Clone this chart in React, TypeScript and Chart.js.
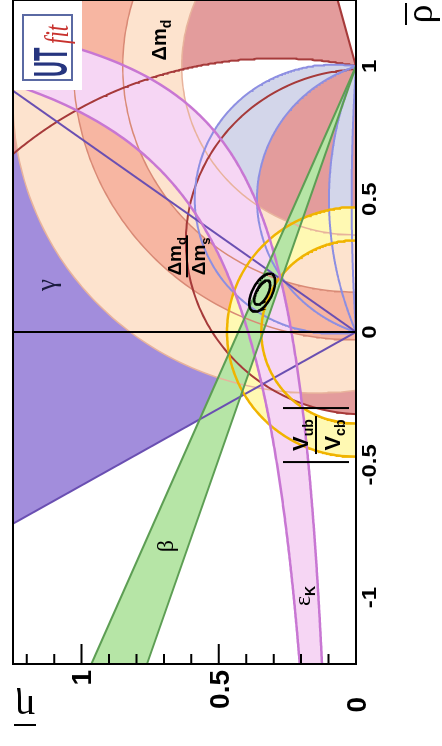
import { useEffect, useRef } from "react";
import { Chart, registerables } from "chart.js";

Chart.register(...registerables);

// ---- plane and axes ----
const RHO_LIMITS = [-1.25, 1.25];
const ETA_LIMITS = [0, 1.25];
const RHO_TICKS = [-1, -0.5, 0, 0.5, 1];
const RHO_TICK_LABELS = ["-1", "-0.5", "0", "0.5", "1"];
const ETA_TICKS = [0, 0.5, 1];
const ETA_TICK_LABELS = ["0", "0.5", "1"];
const ETA_MINOR_TICKS = [0.1, 0.2, 0.3, 0.4, 0.6, 0.7, 0.8, 0.9, 1.1, 1.2];

// ---- constraints in the (ρ̄, η̄) plane ----
// γ: edges of the allowed wedge at the origin, in degrees
const GAMMA_EDGES_DEG = [54, 120];
// β: edges of the allowed wedge at (1,0), in degrees
const BETA_EDGES_DEG = [18.7, 23.2];
// Δm_d: inner radius around (1,0) and outer contour [ρ̄c, η̄c, r]
const DMD_INNER_RADIUS = 0.635;
const DMD_OUTER_CIRCLE = [0.87, 0.15, 1.1];
// Δm_d/Δm_s: radii of the ring around (1,0)
const DMS_RADII = [0.85, 1.03];
// |Vub/Vcb|: radii of the ring around (0,0)
const VUB_RADII = [0.345, 0.47];
// ε_K: edges η̄ = b / (c − ρ̄), given as [c, b]
const EPSK_INNER = [1.39, 0.327];
const EPSK_OUTER = [1.36, 0.535];
// α: circles through (0,0) and (1,0), given by the η̄ of their centres
const ALPHA_MAIN = [0.081, -0.166];
const ALPHA_EDGE = [-1.22, -7.86];
// red band: outer circle and inner circle [ρ̄c, η̄c, r], straight edge angle at (1,0)
const RED_OUTER_CIRCLE = [-0.43, 0.29, 1.46];
const RED_INNER_CIRCLE = [0.34, -0.03, 0.65];
const RED_EDGE_DEG = 15;
// fit result: centre, semi-axes of the 68% and 95% contours, tilt
const FIT_CENTRE = [0.148, 0.342];
const FIT_68 = [0.05, 0.021];
const FIT_95 = [0.078, 0.036];
const FIT_TILT_DEG = -26;

type Pt = { x: number; y: number };
const D2R = Math.PI / 180;

function arc(cx: number, cy: number, r: number, a0: number, a1: number, n = 200): Pt[] {
  const pts: Pt[] = [];
  for (let i = 0; i <= n; i++) {
    const a = a0 + ((a1 - a0) * i) / n;
    pts.push({ x: cx + r * Math.cos(a), y: cy + r * Math.sin(a) });
  }
  return pts;
}

function ringShape(cx: number, cy: number, radii: number[]): Pt[] {
  return [...arc(cx, cy, radii[1], 0, Math.PI), ...arc(cx, cy, radii[0], Math.PI, 0)];
}

// upper arc of the circle through (0,0) and (1,0) whose centre is (0.5, c)
function chordArc(c: number, reverse = false): Pt[] {
  const r = Math.sqrt(0.25 + c * c);
  const a0 = Math.atan2(-c, 0.5);
  const a1 = Math.PI - a0;
  return reverse ? arc(0.5, c, r, a1, a0, 300) : arc(0.5, c, r, a0, a1, 300);
}

function hyperbola(p: number[], reverse = false): Pt[] {
  const [c, b] = p;
  const rhoMin = -1.5;
  const rhoMax = c - b / 1.6;
  const pts: Pt[] = [];
  const n = 400;
  for (let i = 0; i <= n; i++) {
    const rho = rhoMin + ((rhoMax - rhoMin) * i) / n;
    pts.push({ x: rho, y: b / (c - rho) });
  }
  return reverse ? pts.reverse() : pts;
}

function ray(x0: number, y0: number, deg: number, len = 4): Pt[] {
  return [
    { x: x0, y: y0 },
    { x: x0 + len * Math.cos(deg * D2R), y: y0 + len * Math.sin(deg * D2R) },
  ];
}

function ellipse(centre: number[], axes: number[], tiltDeg: number): Pt[] {
  const pts: Pt[] = [];
  const t = tiltDeg * D2R;
  for (let i = 0; i <= 120; i++) {
    const a = (i / 120) * 2 * Math.PI;
    const u = axes[0] * Math.cos(a);
    const v = axes[1] * Math.sin(a);
    pts.push({
      x: centre[0] + u * Math.cos(t) - v * Math.sin(t),
      y: centre[1] + u * Math.sin(t) + v * Math.cos(t),
    });
  }
  return pts;
}

function buildDatasets() {
  const fills: { pts: Pt[]; color: string }[] = [];
  const lines: { pts: Pt[]; color: string; width: number }[] = [];

  // γ wedge at the origin
  const g0 = GAMMA_EDGES_DEG[0];
  const g1 = GAMMA_EDGES_DEG[1];
  fills.push({
    pts: [
      { x: 0, y: 0 },
      ray(0, 0, g0, 4)[1],
      ray(0, 0, (g0 + g1) / 2, 4)[1],
      ray(0, 0, g1, 4)[1],
    ],
    color: "#a28ddc",
  });

  // red band: outside the outer circle above the straight edge, and inside the inner circle
  const [oc, oe, or] = RED_OUTER_CIRCLE;
  const aStart = Math.atan2(0 - oe, 1 - oc);
  const outerArc = arc(oc, oe, or, aStart, 55 * D2R, 200);
  const edge = ray(1, 0, RED_EDGE_DEG, 4);
  fills.push({
    pts: [...outerArc, { x: 3, y: 3 }, edge[1], { x: 1, y: 0 }],
    color: "#e39c9c",
  });
  const [ic, ie, ir] = RED_INNER_CIRCLE;
  const innerCircle = arc(ic, ie, ir, 0, 2 * Math.PI, 240);
  fills.push({ pts: innerCircle, color: "#e39c9c" });

  // α bands
  fills.push({ pts: [...chordArc(ALPHA_MAIN[0]), ...chordArc(ALPHA_MAIN[1], true)], color: "#d3d6ea" });
  fills.push({ pts: [...chordArc(ALPHA_EDGE[0]), ...chordArc(ALPHA_EDGE[1], true)], color: "#d3d6ea" });

  // Δm_d band: outer contour with the inner disc cut out
  const [dc, de, dr] = DMD_OUTER_CIRCLE;
  const dmdOuter = arc(dc, de, dr, 0, 2 * Math.PI, 300);
  const dmdInner = arc(1, 0, DMD_INNER_RADIUS, 2 * Math.PI, 0, 240);
  fills.push({ pts: [...dmdOuter, ...dmdInner], color: "#fde3ce" });
  // Δm_d/Δm_s ring
  fills.push({ pts: ringShape(1, 0, DMS_RADII), color: "#f7b6a2" });

  // |Vub/Vcb| ring
  fills.push({ pts: ringShape(0, 0, VUB_RADII), color: "#fff9b3" });

  // ε_K band
  fills.push({
    pts: [...hyperbola(EPSK_OUTER), ...hyperbola(EPSK_INNER, true)],
    color: "#f6d6f4",
  });

  // β wedge at (1,0)
  const b0 = 180 - BETA_EDGES_DEG[0];
  const b1 = 180 - BETA_EDGES_DEG[1];
  fills.push({
    pts: [{ x: 1, y: 0 }, ray(1, 0, b0, 5)[1], ray(1, 0, b1, 5)[1]],
    color: "#b6e5a6",
  });

  // edges
  lines.push({ pts: dmdOuter, color: "#e8b39c", width: 1.5 });
  lines.push({ pts: arc(1, 0, DMD_INNER_RADIUS, 0, Math.PI), color: "#e8b39c", width: 1.5 });
  for (const r of DMS_RADII) lines.push({ pts: arc(1, 0, r, 0, Math.PI), color: "#d98a76", width: 1.5 });
  lines.push({ pts: outerArc, color: "#a63a3a", width: 2 });
  lines.push({ pts: edge, color: "#a63a3a", width: 2 });
  lines.push({ pts: innerCircle, color: "#a63a3a", width: 2 });
  for (const c of [...ALPHA_MAIN, ...ALPHA_EDGE]) lines.push({ pts: chordArc(c), color: "#8d8fe2", width: 2 });
  lines.push({ pts: ray(0, 0, g0, 4), color: "#6a4fb2", width: 2 });
  lines.push({ pts: ray(0, 0, g1, 4), color: "#6a4fb2", width: 2 });
  for (const r of VUB_RADII) lines.push({ pts: arc(0, 0, r, 0, Math.PI), color: "#f0b400", width: 2.5 });
  lines.push({ pts: hyperbola(EPSK_OUTER), color: "#c877d3", width: 2.5 });
  lines.push({ pts: hyperbola(EPSK_INNER), color: "#c877d3", width: 2.5 });
  lines.push({ pts: ray(1, 0, b0, 5), color: "#5d9e54", width: 2 });
  lines.push({ pts: ray(1, 0, b1, 5), color: "#5d9e54", width: 2 });
  lines.push({ pts: [{ x: 0, y: 0 }, { x: 0, y: 2 }], color: "#000000", width: 2 });
  lines.push({ pts: ellipse(FIT_CENTRE, FIT_95, FIT_TILT_DEG), color: "#000000", width: 2.5 });
  lines.push({ pts: ellipse(FIT_CENTRE, FIT_68, FIT_TILT_DEG), color: "#000000", width: 2.5 });

  const all: any[] = [];
  fills.forEach((f) =>
    all.push({
      data: f.pts,
      backgroundColor: f.color,
      borderColor: "rgba(0,0,0,0)",
      borderWidth: 0,
      fill: "shape",
    })
  );
  lines.forEach((l) =>
    all.push({
      data: l.pts,
      borderColor: l.color,
      borderWidth: l.width,
      fill: false,
    })
  );
  const n = all.length;
  return all.map((d, i) => ({
    ...d,
    order: n - i,
    pointRadius: 0,
    pointHoverRadius: 0,
    tension: 0,
    clip: 0,
  }));
}

function subText(
  ctx: CanvasRenderingContext2D,
  main: string,
  sub: string,
  cx: number,
  baseline: number,
  mainFont: string,
  subFont: string,
  drop: number
) {
  ctx.font = mainFont;
  const w1 = ctx.measureText(main).width;
  ctx.font = subFont;
  const w2 = ctx.measureText(sub).width;
  const x0 = cx - (w1 + w2) / 2;
  ctx.textAlign = "left";
  ctx.textBaseline = "alphabetic";
  ctx.font = mainFont;
  ctx.fillText(main, x0, baseline);
  ctx.font = subFont;
  ctx.fillText(sub, x0 + w1, baseline + drop);
}

const decor = {
  id: "decor",
  afterDatasetsDraw(chart: any) {
    const ctx: CanvasRenderingContext2D = chart.ctx;
    const xs = chart.scales.x;
    const ys = chart.scales.y;
    const P = (r: number, e: number) => [xs.getPixelForValue(r), ys.getPixelForValue(e)];
    const sans = '"Liberation Sans", Arial, sans-serif';
    const serif = '"Liberation Serif", "DejaVu Serif", serif';
    ctx.save();
    ctx.fillStyle = "#000";
    ctx.strokeStyle = "#000";

    // γ
    let [cx, cy] = P(0.177, 1.122);
    ctx.fillStyle = "#1c1c40";
    ctx.font = `27px ${serif}`;
    ctx.textAlign = "center";
    ctx.textBaseline = "middle";
    ctx.fillText("γ", cx, cy);
    ctx.fillStyle = "#000";

    // Δm_d
    [cx, cy] = P(1.099, 0.714);
    subText(ctx, "Δm", "d", cx, cy + 6, `bold 20px ${sans}`, `bold 14px ${sans}`, 5);

    // Δm_d / Δm_s
    [cx, cy] = P(0.285, 0.616);
    subText(ctx, "Δm", "d", cx, cy - 6, `bold 19px ${sans}`, `bold 13px ${sans}`, 5);
    subText(ctx, "Δm", "s", cx, cy + 18, `bold 19px ${sans}`, `bold 13px ${sans}`, 5);
    ctx.lineWidth = 2;
    ctx.beginPath();
    ctx.moveTo(cx - 21, cy);
    ctx.lineTo(cx + 21, cy);
    ctx.stroke();

    // β
    [cx, cy] = P(-0.806, 0.689);
    ctx.font = `24px ${serif}`;
    ctx.textAlign = "center";
    ctx.textBaseline = "middle";
    ctx.fillText("β", cx, cy);

    // ε_K
    [cx, cy] = P(-0.994, 0.186);
    subText(ctx, "ε", "K", cx, cy + 5, `24px ${serif}`, `bold 14px ${sans}`, 5);

    // |Vub / Vcb|
    [cx, cy] = P(-0.388, 0.146);
    ctx.lineWidth = 2;
    ctx.beginPath();
    ctx.moveTo(cx - 27, cy - 33);
    ctx.lineTo(cx - 27, cy + 33);
    ctx.moveTo(cx + 27, cy - 33);
    ctx.lineTo(cx + 27, cy + 33);
    ctx.moveTo(cx - 19, cy);
    ctx.lineTo(cx + 19, cy);
    ctx.stroke();
    subText(ctx, "V", "ub", cx, cy - 8, `bold 22px ${sans}`, `bold 14px ${sans}`, 5);
    subText(ctx, "V", "cb", cx, cy + 24, `bold 22px ${sans}`, `bold 14px ${sans}`, 5);

    ctx.restore();
  },
  afterDraw(chart: any) {
    const ctx: CanvasRenderingContext2D = chart.ctx;
    const { left, right, top, bottom } = chart.chartArea;
    const xs = chart.scales.x;
    const ys = chart.scales.y;
    const sans = '"Liberation Sans", Arial, sans-serif';
    const serif = '"Liberation Serif", "DejaVu Serif", serif';
    ctx.save();

    // logo
    ctx.fillStyle = "#ffffff";
    ctx.fillRect(right - 90, top + 1, 89, 68);
    ctx.strokeStyle = "#5a69a3";
    ctx.lineWidth = 2;
    ctx.strokeRect(right - 80, top + 10, 65, 49);
    ctx.fillStyle = "#26357f";
    ctx.font = `bold 22px ${sans}`;
    ctx.textAlign = "left";
    ctx.textBaseline = "alphabetic";
    ctx.save();
    ctx.translate(right - 77, top + 54);
    ctx.scale(1, 2.2);
    ctx.fillText("UT", 0, 0);
    ctx.restore();
    ctx.fillStyle = "#c8322e";
    ctx.font = `italic 22px ${serif}`;
    ctx.save();
    ctx.translate(right - 44, top + 55);
    ctx.scale(1.05, 1.5);
    ctx.fillText("fit", 0, 0);
    ctx.restore();

    // frame
    ctx.strokeStyle = "#000";
    ctx.lineWidth = 2;
    ctx.strokeRect(left, top, right - left, bottom - top);

    // η̄ ticks, pointing inwards
    ctx.beginPath();
    for (const v of ETA_TICKS) {
      const y = ys.getPixelForValue(v);
      ctx.moveTo(left, y);
      ctx.lineTo(left + 20, y);
    }
    for (const v of ETA_MINOR_TICKS) {
      const y = ys.getPixelForValue(v);
      ctx.moveTo(left, y);
      ctx.lineTo(left + 10, y);
    }
    ctx.stroke();

    // tick labels
    ctx.fillStyle = "#000";
    ctx.textBaseline = "middle";
    ctx.font = `bold 20px ${sans}`;
    ctx.textAlign = "center";
    RHO_TICKS.forEach((v, i) => {
      const x = xs.getPixelForValue(v);
      ctx.save();
      ctx.translate(x, bottom + 14);
      ctx.scale(1.2, 1);
      ctx.fillText(RHO_TICK_LABELS[i], 0, 0);
      ctx.restore();
    });
    ctx.font = `bold 28px ${sans}`;
    ctx.textAlign = "right";
    ETA_TICKS.forEach((v, i) => {
      const y = ys.getPixelForValue(v);
      const x = v === 0 ? left - 33 : left - 6;
      ctx.fillText(ETA_TICK_LABELS[i], x, y + 2);
    });

    // axis titles
    ctx.font = `38px ${serif}`;
    ctx.textAlign = "center";
    ctx.textBaseline = "alphabetic";
    ctx.fillText("ρ", right - 14, bottom + 76);
    ctx.beginPath();
    ctx.moveTo(right - 25, bottom + 50);
    ctx.lineTo(right - 3, bottom + 50);
    ctx.stroke();

    ctx.save();
    ctx.translate(left - 41, top + 12);
    ctx.rotate(-Math.PI / 2);
    ctx.fillText("η", 0, 9);
    ctx.beginPath();
    ctx.moveTo(-11, -20);
    ctx.lineTo(11, -20);
    ctx.stroke();
    ctx.restore();

    ctx.restore();
  },
};

export default function App() {
  const ref = useRef<HTMLCanvasElement>(null);

  useEffect(() => {
    const canvas = ref.current;
    if (!canvas) return;
    const chart = new Chart(canvas, {
      type: "line",
      data: { datasets: buildDatasets() as any },
      options: {
        animation: false,
        responsive: false,
        devicePixelRatio: 1,
        events: [],
        layout: { padding: { left: 82, right: 0, top: 13, bottom: 86 } },
        scales: {
          x: { type: "linear", min: RHO_LIMITS[0], max: RHO_LIMITS[1], display: false },
          y: { type: "linear", min: ETA_LIMITS[0], max: ETA_LIMITS[1], display: false },
        },
        plugins: {
          legend: { display: false },
          tooltip: { enabled: false },
          filler: { propagate: false },
        },
      } as any,
      plugins: [decor],
    });
    return () => chart.destroy();
  }, []);

  return (
    <div
      style={{
        position: "fixed",
        left: 0,
        top: 0,
        width: 442,
        height: 746,
        overflow: "hidden",
        background: "#ffffff",
      }}
    >
      <div
        style={{
          position: "absolute",
          left: 0,
          top: 0,
          width: 746,
          height: 442,
          transformOrigin: "0 0",
          transform: "translate(0px, 746px) rotate(-90deg)",
        }}
      >
        <canvas ref={ref} width={746} height={442} style={{ display: "block" }} />
      </div>
    </div>
  );
}
